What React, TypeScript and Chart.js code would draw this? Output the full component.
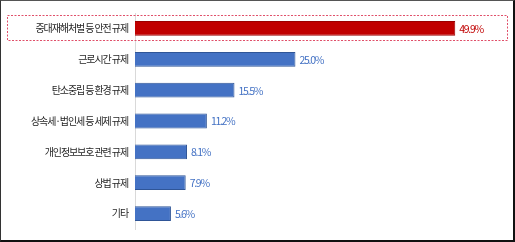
import React, { useEffect, useRef } from "react";
import { Chart, registerables } from "chart.js";

Chart.register(...registerables);

const categories = [
  "중대재해처벌 등 안전 규제",
  "근로시간 규제",
  "탄소중립 등 환경 규제",
  "상속세·법인세 등 세제 규제",
  "개인정보보호 관련 규제",
  "상법 규제",
  "기타",
];
const values = [49.9, 25.0, 15.5, 11.2, 8.1, 7.9, 5.6];
const highlightIndex = 0;

const RED = "#C00000";
const RED_EDGE = "#9A0000";
const BLUE = "#4472C4";
const BLUE_EDGE = "#2F5597";
const FONT = "'Noto Sans CJK KR', 'Noto Sans', sans-serif";

export default function App() {
  const ref = useRef<HTMLCanvasElement | null>(null);

  useEffect(() => {
    if (!ref.current) return;

    const spacingPlugin = {
      id: "spacing",
      beforeDraw(chart: any) {
        try {
          chart.ctx.letterSpacing = "-1.1px";
        } catch (e) {}
      },
    };

    const decoPlugin = {
      id: "deco",
      afterDatasetsDraw(chart: any) {
        const ctx = chart.ctx;
        const yScale = chart.scales.y;
        const meta = chart.getDatasetMeta(0);
        ctx.save();
        // dashed highlight box
        const cy = yScale.getPixelForValue(highlightIndex);
        ctx.strokeStyle = "#E0506A";
        ctx.lineWidth = 1;
        ctx.setLineDash([2, 1.5]);
        ctx.strokeRect(7.5, Math.round(cy - 13) + 0.5, chart.width - 15, 25);
        ctx.setLineDash([]);
        // value labels
        ctx.font = `10.5px ${FONT}`;
        ctx.letterSpacing = "-1.3px";
        ctx.textAlign = "left";
        ctx.textBaseline = "middle";
        meta.data.forEach((el: any, i: number) => {
          ctx.fillStyle = i === highlightIndex ? RED : BLUE;
          ctx.fillText(values[i].toFixed(1) + "%", el.x + 4, el.y + 0.5);
        });
        ctx.restore();
      },
    };

    const chart = new Chart(ref.current, {
      type: "bar",
      data: {
        labels: categories,
        datasets: [
          {
            data: values,
            backgroundColor: values.map((_, i) => (i === highlightIndex ? RED : BLUE)),
            borderColor: values.map((_, i) => (i === highlightIndex ? RED_EDGE : BLUE_EDGE)),
            borderWidth: 1,
            categoryPercentage: 1,
            barPercentage: 0.48,
          },
        ],
      },
      options: {
        indexAxis: "y",
        animation: false,
        responsive: false,
        maintainAspectRatio: false,
        layout: { padding: { top: 5, bottom: 3, left: 0, right: 27 } },
        plugins: {
          legend: { display: false },
          tooltip: { enabled: false },
          title: { display: false },
        },
        scales: {
          x: {
            display: false,
            min: 0,
            max: 55,
          },
          y: {
            afterFit(scale: any) {
              scale.width = 135;
            },
            grid: { display: false, drawTicks: false },
            border: { display: true, color: "#D9D9D9", width: 1 },
            ticks: {
              padding: 7,
              color: "#262626",
              font: { family: FONT, size: 10 },
            },
          },
        },
      },
      plugins: [spacingPlugin, decoPlugin],
    } as any);

    return () => chart.destroy();
  }, []);

  return (
    <div
      style={{
        position: "absolute",
        left: 0,
        top: 0,
        width: 515,
        height: 242,
        background: "#ffffff",
      }}
    >
      <canvas ref={ref} width={515} height={242} style={{ display: "block" }} />
      <div
        style={{
          position: "absolute",
          left: 0,
          top: 0,
          width: 515,
          height: 242,
          boxSizing: "border-box",
          borderStyle: "solid",
          borderTopWidth: 1,
          borderLeftWidth: 1,
          borderRightWidth: 2,
          borderBottomWidth: 2,
          borderTopColor: "#555",
          borderLeftColor: "#333",
          borderRightColor: "#111",
          borderBottomColor: "#111",
          pointerEvents: "none",
        }}
      />
    </div>
  );
}
